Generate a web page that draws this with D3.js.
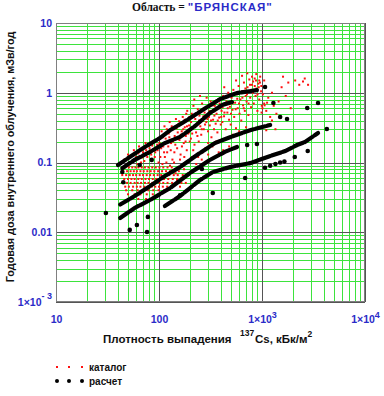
<!DOCTYPE html>
<html>
<head>
<meta charset="utf-8">
<script src="https://cdn.jsdelivr.net/npm/d3@7"></script>
<style>
  body { margin: 0; background: #fff; }
</style>
</head>
<body>
<div id="chart"></div>
<script>
// Internal dose vs 137Cs deposition density, Bryansk region
// red = catalogue values, black = calculated values

const regionName = "\"БРЯНСКАЯ\"";

const xTicks = [10, 100, 1000, 10000];
const xTickLabels = [["10"], ["100"], ["1×10", "3"], ["1×10", "4"]];
const yTicks = [10, 1, 0.1, 0.01, 0.001];
const yTickLabels = [["10"], ["1"], ["0.1"], ["0.01"], ["1×10", "- 3"]];

// catalogue: horizontal rows of quantized values (lower-left block)
const catalogRows = [
  { y: 0.085, xs: [44, 47, 51, 55, 59, 63, 68, 73, 79, 86, 93, 101, 110, 121, 133] },
  { y: 0.075, xs: [45, 49, 53, 57, 61, 66, 71, 77, 83, 90, 98, 107, 117, 128, 141, 156] },
  { y: 0.066, xs: [44, 48, 52, 56, 60, 65, 70, 76, 82, 89, 97, 105, 115, 126, 139, 152, 170] },
  { y: 0.058, xs: [46, 50, 54, 58, 63, 68, 74, 80, 87, 94, 102, 112, 123, 136, 150, 166] },
  { y: 0.051, xs: [45, 49, 53, 58, 62, 67, 73, 79, 86, 93, 101, 110, 121, 134, 148, 165, 182] },
  { y: 0.045, xs: [47, 51, 56, 61, 66, 72, 78, 85, 92, 100, 109, 120, 133] },
  { y: 0.040, xs: [48, 55, 62, 70, 79, 88, 99, 112] },
  { y: 0.035, xs: [50, 58, 66, 76, 87, 100] },
  { y: 0.030, xs: [52, 63, 75] }
];

// catalogue: scattered values [density, dose]
const catalogCloud = [
  [46, 0.11], [50, 0.13], [53, 0.1], [57, 0.15], [60, 0.12], [64, 0.17], [67, 0.1], [70, 0.14],
  [74, 0.19], [77, 0.12], [81, 0.16], [85, 0.11], [88, 0.2], [92, 0.14], [96, 0.18], [99, 0.1],
  [62, 0.095], [72, 0.105], [84, 0.13], [55, 0.125],
  [58, 0.105], [63, 0.135], [69, 0.118], [75, 0.15], [80, 0.138], [86, 0.175], [91, 0.12], [97, 0.15],
  [103, 0.12], [106, 0.28], [110, 0.17], [113, 0.33], [116, 0.22], [120, 0.14], [124, 0.26], [127, 0.38],
  [131, 0.19], [135, 0.11], [138, 0.3], [142, 0.24], [146, 0.42], [150, 0.16], [154, 0.35], [158, 0.21],
  [162, 0.13], [166, 0.28], [170, 0.45], [174, 0.19], [178, 0.32], [182, 0.24], [186, 0.15], [190, 0.4],
  [195, 0.27], [199, 0.2], [108, 0.095], [118, 0.1], [140, 0.1], [160, 0.11], [130, 0.15], [152, 0.27],
  [176, 0.12], [188, 0.55], [196, 0.34], [144, 0.18], [122, 0.2], [168, 0.36], [112, 0.14], [184, 0.5],
  [101, 0.19], [105, 0.16], [109, 0.23], [114, 0.12], [119, 0.3], [123, 0.17], [126, 0.23], [133, 0.33],
  [137, 0.2], [141, 0.14], [148, 0.31], [153, 0.22], [157, 0.39], [163, 0.25], [167, 0.17], [172, 0.3],
  [177, 0.41], [181, 0.2], [187, 0.33], [192, 0.26], [197, 0.45],
  [204, 0.22], [208, 0.5], [212, 0.31], [216, 0.65], [221, 0.18], [225, 0.42], [229, 0.27], [234, 0.36],
  [238, 0.58], [243, 0.2], [247, 0.47], [252, 0.33], [257, 0.25], [262, 0.7], [267, 0.4], [272, 0.3],
  [277, 0.52], [282, 0.16], [288, 0.38], [293, 0.62], [299, 0.28], [305, 0.45], [311, 0.34], [317, 0.75],
  [323, 0.23], [329, 0.55], [335, 0.41], [342, 0.3], [348, 0.65], [355, 0.36], [362, 0.5], [369, 0.27],
  [376, 0.8], [384, 0.44], [392, 0.6], [398, 0.35], [215, 0.15], [240, 0.12], [265, 0.14], [300, 0.19],
  [330, 0.17], [360, 0.2], [250, 0.9], [290, 0.85], [220, 0.8],
  [205, 0.38], [210, 0.26], [218, 0.45], [223, 0.33], [232, 0.5], [236, 0.24], [245, 0.4], [255, 0.55],
  [260, 0.3], [270, 0.46], [280, 0.35], [285, 0.6], [295, 0.42], [310, 0.55], [320, 0.4], [333, 0.66],
  [345, 0.47], [358, 0.58], [372, 0.4], [388, 0.7],
  [405, 0.55], [412, 0.38], [420, 0.9], [428, 0.46], [436, 0.68], [444, 0.3], [452, 0.75], [461, 0.52],
  [470, 1.0], [479, 0.41], [488, 0.63], [497, 0.35], [507, 0.85], [517, 0.57], [527, 1.1], [537, 0.45],
  [548, 0.72], [559, 0.31], [570, 0.95], [581, 0.6], [593, 1.25], [605, 0.5], [617, 0.8], [629, 0.4],
  [642, 1.05], [655, 0.66], [668, 1.4], [681, 0.55], [695, 0.9], [709, 0.75], [723, 1.2], [738, 0.48],
  [753, 1.55], [768, 0.85], [783, 0.62], [799, 1.3], [815, 1.0], [832, 0.7], [849, 1.6], [866, 0.9],
  [884, 1.15], [902, 0.55], [920, 1.35], [940, 0.8], [960, 1.7], [980, 1.05], [995, 0.65],
  [450, 0.22], [520, 0.25], [600, 0.28], [700, 0.32], [430, 1.2], [560, 1.5], [640, 1.75], [720, 1.9],
  [800, 1.7], [880, 1.85], [940, 1.5],
  [402, 0.45], [415, 0.62], [432, 0.52], [448, 0.85], [465, 0.6], [485, 0.9], [500, 0.5], [515, 0.7],
  [535, 0.95], [555, 0.58], [575, 0.82], [598, 0.7], [620, 1.0], [645, 0.85], [665, 0.6], [690, 1.15],
  [715, 0.95], [740, 0.7], [765, 1.3], [790, 1.1], [820, 1.45], [850, 1.25], [875, 1.5], [905, 0.95],
  [930, 1.2], [955, 1.4], [985, 1.25],
  [1020, 0.95], [1050, 0.7], [1080, 1.2], [1100, 0.55], [1150, 0.85], [1200, 0.45], [1250, 1.0], [1300, 0.65],
  [1380, 0.5], [1450, 0.75], [1550, 1.2], [1600, 1.7], [1700, 0.9], [1800, 1.4], [1900, 0.6], [2100, 1.5],
  [2300, 1.3], [2500, 1.45], [2600, 1.6], [2800, 1.3], [1050, 1.5], [1150, 0.35], [1250, 0.4], [1350, 0.3],
  [1100, 0.29], [990, 0.52], [1010, 0.6], [1060, 0.66], [1120, 0.72],
  [128, 0.09], [145, 0.07], [150, 0.056], [160, 0.045], [175, 0.08], [190, 0.1], [210, 0.12], [230, 0.095],
  [260, 0.11], [300, 0.13], [340, 0.12], [380, 0.14], [420, 0.15], [480, 0.17], [550, 0.16]
];

// calculated values: dense runs along five curves
const calcBands = [
  [[40, 0.092], [52, 0.12], [73, 0.167], [102, 0.224], [128, 0.29], [179, 0.39], [267, 0.57], [391, 0.81], [572, 0.99], [893, 1.09]],
  [[44, 0.083], [58, 0.109], [82, 0.142], [114, 0.19], [160, 0.232], [224, 0.334], [313, 0.513], [409, 0.667], [512, 0.736]],
  [[42, 0.025], [58, 0.033], [82, 0.046], [114, 0.064], [160, 0.086], [250, 0.137], [349, 0.19], [489, 0.23], [766, 0.29], [1200, 0.345]],
  [[42, 0.016], [58, 0.0223], [82, 0.029], [128, 0.043], [200, 0.0706], [313, 0.109], [436, 0.142], [572, 0.167]],
  [[114, 0.0238], [160, 0.033], [200, 0.043], [250, 0.056], [333, 0.073], [489, 0.086], [766, 0.098], [1200, 0.124], [1680, 0.146], [2190, 0.178], [2620, 0.197], [3500, 0.265]]
];

// calculated values: isolated points
const calcDots = [
  [30.5, 0.0189], [52, 0.0108], [61, 0.0127], [76.5, 0.0101], [78, 0.0166], [261, 0.0807], [333, 0.0366],
  [686, 0.06], [718, 0.178], [893, 0.184], [1070, 1.21], [1290, 0.713], [1500, 0.449], [1750, 0.421],
  [2750, 0.604], [3500, 0.713], [4260, 0.302], [2080, 0.12], [2780, 0.146], [160, 0.034],
  [65, 0.092], [85, 0.109], [45, 0.052], [44, 0.073],
  [1070, 0.084], [1200, 0.09], [1350, 0.095], [1500, 0.1], [1650, 0.103]
];

const width = 384, height = 396;
const plot = { left: 56, right: 365, top: 23, bottom: 302 };

const x = d3.scaleLog().domain([10, 1e4]).range([plot.left, plot.right]);
const y = d3.scaleLog().domain([1e-3, 10]).range([plot.bottom, plot.top]);

const blue = "#2b2bc8";
const sans = "'Liberation Sans', Arial, sans-serif";

const svg = d3.select("#chart")
  .append("svg")
  .attr("width", width)
  .attr("height", height)
  .style("font-family", sans);

svg.append("rect").attr("width", width).attr("height", height).attr("fill", "#fff");

// Title
const title = svg.append("text")
  .attr("x", 132)
  .attr("y", 11)
  .style("font-size", "11.5px")
  .style("font-weight", "bold");
title.append("tspan")
  .style("font-family", "'Liberation Serif', 'Times New Roman', serif")
  .attr("fill", "#111")
  .text("Область = ");
title.append("tspan")
  .attr("fill", blue)
  .style("letter-spacing", "1px")
  .text(regionName);

// Grid: minor lines (green) then decades (dark)
const px = v => Math.round(v) + 0.5;
const minorX = x.ticks().filter(d => !xTicks.includes(d));
const minorY = y.ticks().filter(d => !yTicks.includes(d));

const grid = svg.append("g");
grid.selectAll(".gx")
  .data(minorX)
  .join("line")
  .attr("x1", d => px(x(d))).attr("x2", d => px(x(d)))
  .attr("y1", plot.top).attr("y2", plot.bottom)
  .attr("stroke", "#3de33d").attr("stroke-width", 1);
grid.selectAll(".gy")
  .data(minorY)
  .join("line")
  .attr("y1", d => px(y(d))).attr("y2", d => px(y(d)))
  .attr("x1", plot.left).attr("x2", plot.right)
  .attr("stroke", "#3de33d").attr("stroke-width", 1);

grid.selectAll(".mx")
  .data(xTicks)
  .join("line")
  .attr("x1", d => px(x(d))).attr("x2", d => px(x(d)))
  .attr("y1", plot.top).attr("y2", plot.bottom)
  .attr("stroke", "#555").attr("stroke-width", 1);
grid.selectAll(".my")
  .data(yTicks)
  .join("line")
  .attr("y1", d => px(y(d))).attr("y2", d => px(y(d)))
  .attr("x1", plot.left).attr("x2", plot.right)
  .attr("stroke", "#555").attr("stroke-width", 1);

svg.append("rect")
  .attr("x", plot.left + 0.5).attr("y", plot.top + 0.5)
  .attr("width", plot.right - plot.left - 1).attr("height", plot.bottom - plot.top - 1)
  .attr("fill", "none").attr("stroke", "#808080");

// Axes (labels only)
const xAxis = svg.append("g")
  .attr("transform", `translate(0, ${plot.bottom})`)
  .call(d3.axisBottom(x).tickValues(xTicks).tickSize(0).tickPadding(14).tickFormat(""));
xAxis.select(".domain").remove();
xAxis.selectAll(".tick text").each(function (d, i) {
  const t = d3.select(this)
    .attr("fill", blue)
    .style("font-size", "10.5px")
    .style("font-weight", "bold")
    .style("font-family", sans);
  const lab = xTickLabels[i];
  t.append("tspan").text(lab[0]);
  if (lab[1]) t.append("tspan").attr("dy", "-0.6em").style("font-size", "9px").text(lab[1]);
});

const yAxis = svg.append("g")
  .attr("transform", `translate(${plot.left}, 0)`)
  .call(d3.axisLeft(y).tickValues(yTicks).tickSize(0).tickPadding(4).tickFormat(""));
yAxis.select(".domain").remove();
yAxis.selectAll(".tick text").each(function (d, i) {
  const t = d3.select(this)
    .attr("fill", blue)
    .style("font-size", "10.5px")
    .style("font-weight", "bold")
    .style("font-family", sans);
  const lab = yTickLabels[i];
  t.append("tspan").text(lab[0]);
  if (lab[1]) t.append("tspan").attr("dy", "-0.8em").style("font-size", "9px").text(lab[1]);
});

// Catalogue points (red)
const catalog = catalogRows.flatMap(r => r.xs.map(v => [v, r.y])).concat(catalogCloud);
svg.append("g")
  .selectAll("rect")
  .data(catalog)
  .join("rect")
  .attr("x", d => x(d[0]) - 1)
  .attr("y", d => y(d[1]) - 1)
  .attr("width", 2)
  .attr("height", 2)
  .attr("fill", "#ff1010");

// Calculated points (black)
const line = d3.line().x(d => x(d[0])).y(d => y(d[1]));
svg.append("g")
  .selectAll("path")
  .data(calcBands)
  .join("path")
  .attr("d", line)
  .attr("fill", "none")
  .attr("stroke", "#000")
  .attr("stroke-width", 4.2)
  .attr("stroke-linecap", "round")
  .attr("stroke-dasharray", "10,2");

svg.append("g")
  .selectAll("circle")
  .data(calcDots)
  .join("circle")
  .attr("cx", d => x(d[0]))
  .attr("cy", d => y(d[1]))
  .attr("r", 2.3)
  .attr("fill", "#000");

// Axis titles
const xt = svg.append("text")
  .attr("y", 343)
  .attr("fill", "#111")
  .style("font-weight", "bold");
xt.append("tspan").attr("x", 103).style("font-size", "11.5px").text("Плотность выпадения");
xt.append("tspan").attr("x", 240).attr("y", 335.5).style("font-size", "8.5px").text("137");
xt.append("tspan").attr("x", 255).attr("y", 343).style("font-size", "11.5px").text("Cs, кБк/м");
xt.append("tspan").attr("dy", -6.5).style("font-size", "8.5px").text("2");

svg.append("text")
  .attr("transform", "translate(14, 157) rotate(-90)")
  .attr("text-anchor", "middle")
  .attr("fill", "#111")
  .style("font-size", "10.8px")
  .style("font-weight", "bold")
  .text("Годовая доза внутреннего облучения, мЗв/год");

// Legend
const legend = svg.append("g");
[57, 69, 82].forEach(cx => {
  legend.append("rect").attr("x", cx - 1).attr("y", 366).attr("width", 2).attr("height", 2).attr("fill", "#ff1010");
  legend.append("circle").attr("cx", cx).attr("cy", 381).attr("r", 2).attr("fill", "#000");
});
legend.append("text").attr("x", 89).attr("y", 370.5)
  .attr("fill", "#111").style("font-size", "10px").style("font-weight", "bold").text("каталог");
legend.append("text").attr("x", 89).attr("y", 384.5)
  .attr("fill", "#111").style("font-size", "10px").style("font-weight", "bold").text("расчет");
</script>
</body>
</html>
